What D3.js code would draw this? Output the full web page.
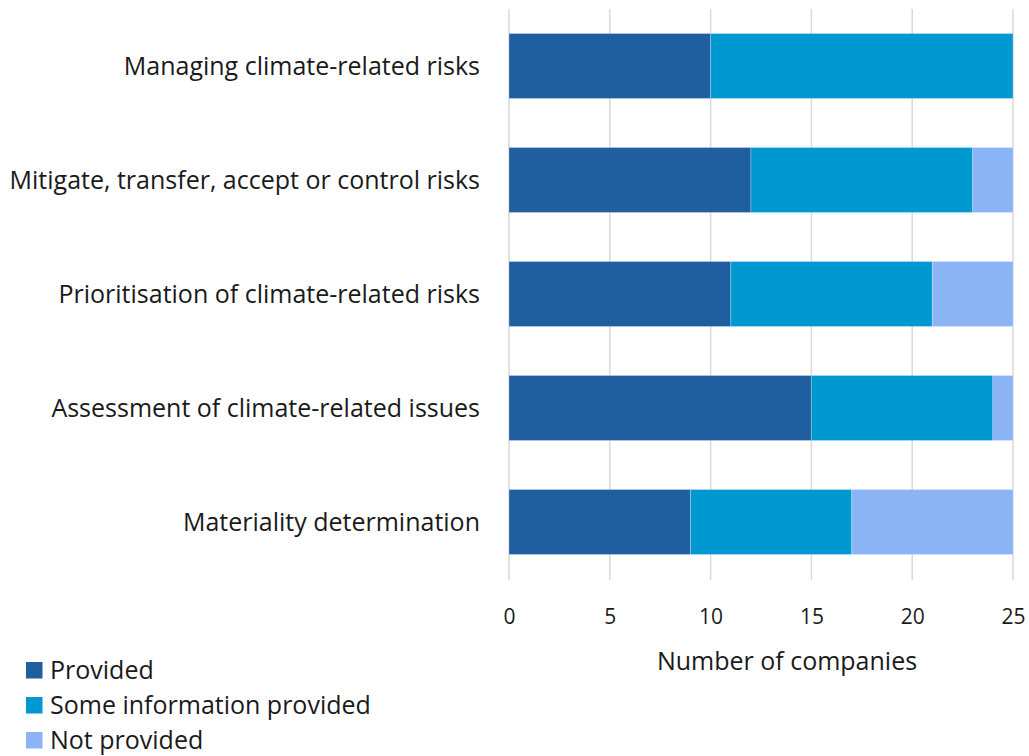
<!DOCTYPE html>
<html><head><meta charset="utf-8">
<script src="https://cdn.jsdelivr.net/npm/d3@7"></script>
<style>body{margin:0;background:#fff;} svg{display:block;} text{font-family:"Open Sans",sans-serif;fill:#1a1a1a;}</style>
</head><body>
<svg id="c" width="1029" height="756"></svg>
<script>
const categories = ["Managing climate-related risks","Mitigate, transfer, accept or control risks","Prioritisation of climate-related risks","Assessment of climate-related issues","Materiality determination"];
const provided = [10,12,11,15,9];
const someInfo = [15,11,10,9,8];
const notProvided = [0,2,4,1,8];
const seriesNames = ["Provided","Some information provided","Not provided"];
const colors = ["#1F5FA0","#0098D0","#8AB4F5"];
const xTicks = [0,5,10,15,20,25];
const xTitle = "Number of companies";

const svg = d3.select("#c");
const x = d3.scaleLinear().domain([0,25]).range([509,1013]);
const y = d3.scaleBand().domain(categories).range([9,579]).paddingInner(0.43).paddingOuter(0.215);

// gridlines
svg.append("g").selectAll("line").data(xTicks).join("line")
  .attr("x1",d=>x(d)).attr("x2",d=>x(d)).attr("y1",9).attr("y2",580)
  .attr("stroke","#d9d9d9").attr("stroke-width",1.5);

const data = categories.map((c,i)=>({cat:c, vals:[provided[i],someInfo[i],notProvided[i]]}));
const stackData = data.map(d=>{let acc=0;return d.vals.map((v,k)=>{const s={cat:d.cat,k,x0:acc,x1:acc+v};acc+=v;return s;});}).flat().filter(s=>s.x1>s.x0);
svg.append("g").selectAll("rect").data(stackData).join("rect")
  .attr("x",d=>x(d.x0)).attr("width",d=>x(d.x1)-x(d.x0))
  .attr("y",d=>y(d.cat)).attr("height",y.bandwidth())
  .attr("fill",d=>colors[d.k]).attr("stroke","rgba(255,255,255,0.25)").attr("stroke-width",1);

// category labels
svg.append("g").selectAll("text").data(categories).join("text")
  .attr("x",480).attr("y",d=>y(d)+y.bandwidth()/2).attr("dy","0.35em")
  .attr("text-anchor","end").attr("font-size",25).text(d=>d);

// x axis tick labels
const xAxis = d3.axisBottom(x).tickValues(xTicks).tickSize(0).tickPadding(0);
const gx = svg.append("g").attr("transform","translate(0,609)").call(xAxis);
gx.select(".domain").remove();
gx.selectAll("text").attr("font-size",21).attr("font-family","Open Sans, sans-serif").attr("fill","#1a1a1a");

svg.append("text").attr("x",787).attr("y",661).attr("dy","0.35em").attr("text-anchor","middle").attr("font-size",25).text(xTitle);

// legend
const lg = svg.append("g").selectAll("g").data(seriesNames).join("g")
  .attr("transform",(d,i)=>`translate(26,${662+i*35})`);
lg.append("rect").attr("width",16.5).attr("height",16.5).attr("fill",(d,i)=>colors[i]);
lg.append("text").attr("x",24).attr("y",8).attr("dy","0.35em").attr("font-size",25).text(d=>d);
</script>
</body></html>
